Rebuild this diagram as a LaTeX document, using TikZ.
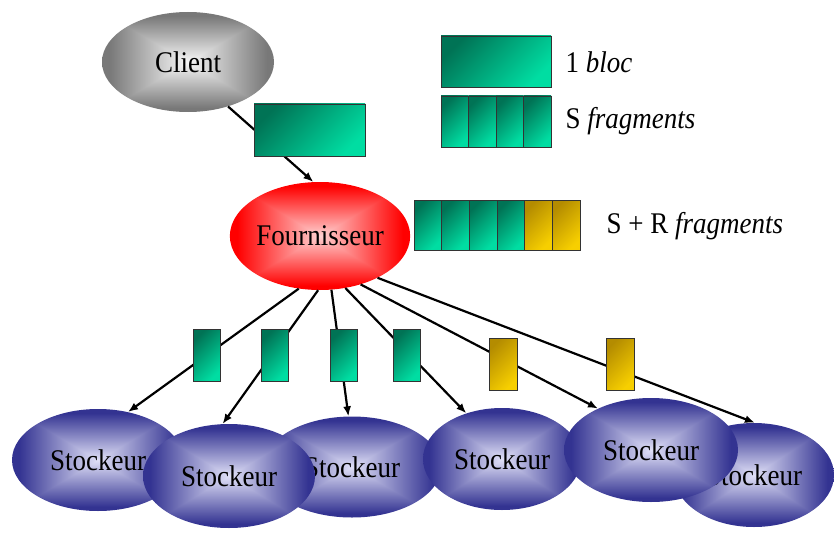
\documentclass[tikz,border=0pt]{standalone}
\usepackage{fontspec}
\setmainfont{Liberation Serif}
\usetikzlibrary{arrows.meta,shapes.geometric}

\pgfdeclarefunctionalshading{bluebox}{\pgfpoint{-50bp}{-50bp}}{\pgfpoint{50bp}{50bp}}{}{
 abs exch abs 2 copy lt {exch} if pop 23 div dup 1 gt {pop 1} if
 dup -0.68 mul 0.88 add exch dup -0.68 mul 0.88 add exch -0.40 mul 0.97 add }
\pgfdeclarefunctionalshading{greybox}{\pgfpoint{-50bp}{-50bp}}{\pgfpoint{50bp}{50bp}}{}{
 abs exch abs 2 copy lt {exch} if pop 23 div dup 1 gt {pop 1} if
 -0.5 mul 0.97 add dup dup }
\pgfdeclarefunctionalshading{redbox}{\pgfpoint{-50bp}{-50bp}}{\pgfpoint{50bp}{50bp}}{}{
 abs exch abs 2 copy lt {exch} if pop 23 div dup 1 gt {pop 1} if
 dup -0.82 mul 0.82 add exch -0.82 mul 0.82 add 1 3 1 roll }

\definecolor{gdark}{HTML}{007355}
\definecolor{glight}{HTML}{00DDA2}
\definecolor{ydark}{HTML}{B48C00}
\definecolor{ylight}{HTML}{F7CF00}

\newcommand\sqz[1]{\scalebox{0.9}[1]{#1}}

\tikzset{
  txt/.style={font=\fontsize{30}{32}\selectfont},
  stk/.style={ellipse, shading=bluebox, inner sep=0pt, txt},
  cellg/.style={draw=black!80, line width=0.9pt, top color=gdark, bottom color=glight, shading angle=45, inner sep=0pt},
  celly/.style={draw=black!80, line width=0.9pt, top color=ydark, bottom color=ylight, shading angle=45, inner sep=0pt},
  arr/.style={line width=2.2pt, -{Latex[length=10pt,width=8pt]}}
}

\begin{document}
\begin{tikzpicture}[x=1pt,y=-1pt]
\useasboundingbox (0,0) rectangle (834,532);

% Stockeurs (back to front)
\node[stk, minimum width=172pt, minimum height=102pt] (s1) at (98,460) {\sqz{Stockeur}};
\node[stk, minimum width=178pt, minimum height=101pt] (s3) at (352,467) {\sqz{Stockeur}};
\node[stk, minimum width=172pt, minimum height=104pt] (s2) at (229,476) {\sqz{Stockeur}};
\node[stk, minimum width=158pt, minimum height=102pt] (s4) at (502,459) {\sqz{Stockeur}};
\node[stk, minimum width=160pt, minimum height=104pt] (s6) at (754,475) {\sqz{Stockeur}};
\node[stk, minimum width=174pt, minimum height=104pt] (s5) at (651,450) {\sqz{Stockeur}};

% Client and Fournisseur
\node[ellipse, shading=greybox, inner sep=0pt, minimum width=172pt, minimum height=100pt, txt] (cl) at (188,62) {\sqz{Client}};
\node[ellipse, shading=redbox, inner sep=0pt, minimum width=176pt, minimum height=108pt, txt] (f) at (320,236) {\sqz{Fournisseur}};

% connectors
\draw[arr] (cl.312) -- (f.97);
\draw[arr] (f.248) -- (s1.58);
\draw[arr] (f.268) -- (s2.97);
\draw[arr] (f.282) -- (s3.94);
\draw[arr] (f.296) -- (s4.128);
\draw[arr] (f.310) -- (s5.142);
\draw[arr] (f.324) -- (s6.89);

% block on client arrow
\node[cellg, minimum width=111pt, minimum height=52pt] (b0) at (309.5,130) {};

% legend
\node[cellg, minimum width=110pt, minimum height=51pt] (lb) at (496,61.5) {};
\node[txt, anchor=west] (lbt) at (562,62) {\sqz{1 \textit{bloc}}};
\foreach \i in {0,...,3}
  \node[cellg, minimum width=27.5pt, minimum height=51pt] (lf\i) at ({454.75+27.5*\i},121.5) {};
\node[txt, anchor=west] (lft) at (562,121) {\sqz{S \textit{fragments}}};

% S+R bar
\foreach \i in {0,...,3}
  \node[cellg, minimum width=27.67pt, minimum height=50pt] (rf\i) at ({427.83+27.67*\i},225) {};
\foreach \i in {4,5}
  \node[celly, minimum width=27.67pt, minimum height=50pt] (rf\i) at ({427.83+27.67*\i},225) {};
\node[txt, anchor=west] (rft) at (603,226) {\sqz{S + R \textit{fragments}}};

% fragments on connectors
\node[cellg, minimum width=27pt, minimum height=52pt] (p1) at (206.5,355.5) {};
\node[cellg, minimum width=27pt, minimum height=52pt] (p2) at (274.5,355.5) {};
\node[cellg, minimum width=27pt, minimum height=52pt] (p3) at (343.5,355.5) {};
\node[cellg, minimum width=27pt, minimum height=52pt] (p4) at (406.5,355.5) {};
\node[celly, minimum width=28pt, minimum height=52pt] (p5) at (503,364) {};
\node[celly, minimum width=28pt, minimum height=52pt] (p6) at (620,364) {};
\end{tikzpicture}
\end{document}
